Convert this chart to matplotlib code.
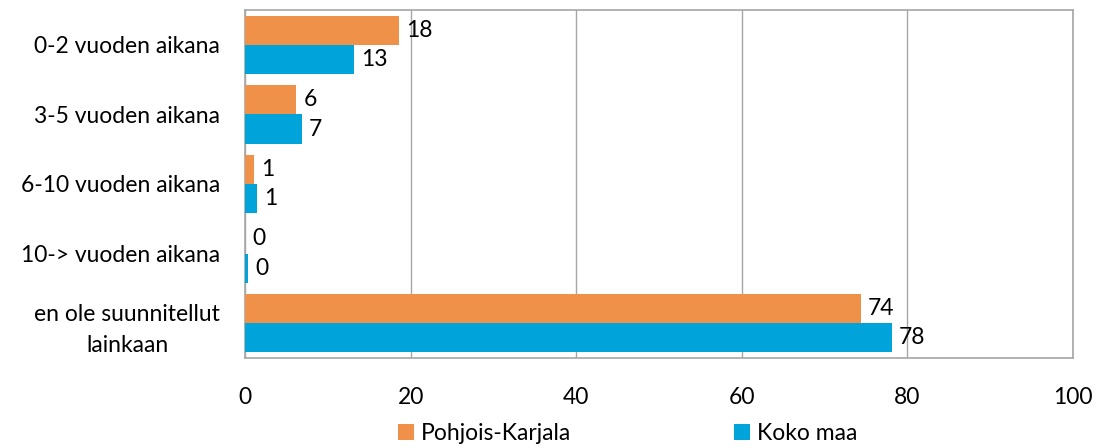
import numpy as np
import matplotlib.pyplot as plt

plt.rcParams['font.family'] = ['Lato', 'DejaVu Sans']

categories = ['0-2 vuoden aikana', '3-5 vuoden aikana', '6-10 vuoden aikana',
              '10-> vuoden aikana', 'en ole suunnitellut\nlainkaan']
pk_values = [18.6, 6.2, 1.05, 0.0, 74.4]
pk_labels = ['18', '6', '1', '0', '74']
koko_values = [13.2, 6.9, 1.5, 0.4, 78.1]
koko_labels = ['13', '7', '1', '0', '78']
xticks = [0, 20, 40, 60, 80, 100]

orange = '#F0914A'
blue = '#00A3DA'
grid_col = '#A6A6A6'
fs = 16.5

fig = plt.figure(figsize=(11.11, 4.48), dpi=100)
ax = fig.add_axes([0.2205, 0.2009, 0.7453, 0.7768])

y = np.arange(len(categories))
h = 0.42
ax.barh(y - h / 2, pk_values, height=h, color=orange, zorder=3, label='Pohjois-Karjala')
ax.barh(y + h / 2, koko_values, height=h, color=blue, zorder=3, label='Koko maa')

for yi, v, lab in zip(y - h / 2, pk_values, pk_labels):
    ax.annotate(lab, (v, yi), xytext=(5, 0), textcoords='offset points',
                va='center', ha='left', fontsize=fs)
for yi, v, lab in zip(y + h / 2, koko_values, koko_labels):
    ax.annotate(lab, (v, yi), xytext=(5, 0), textcoords='offset points',
                va='center', ha='left', fontsize=fs)

ax.set_xlim(0, 100)
ax.set_ylim(len(categories) - 0.5, -0.5)
ax.set_xticks(xticks)
ax.set_xticklabels([str(t) for t in xticks], fontsize=fs)
ax.set_yticks(y)
ax.set_yticklabels(categories, fontsize=fs, multialignment='center', linespacing=1.55)
ax.tick_params(axis='both', length=0)
ax.tick_params(axis='x', pad=21)
ax.tick_params(axis='y', pad=18)

ax.xaxis.grid(True, color=grid_col, linewidth=1, zorder=0)
ax.set_axisbelow(True)
for s in ax.spines.values():
    s.set_color(grid_col)
    s.set_linewidth(1.2)

fig.legend(loc='center', bbox_to_anchor=(0.565, 0.033), ncol=2, frameon=False,
           fontsize=fs, handlelength=0.7, handleheight=0.7, handletextpad=0.3,
           columnspacing=7.1)

fig.savefig('out.png', dpi=100)
